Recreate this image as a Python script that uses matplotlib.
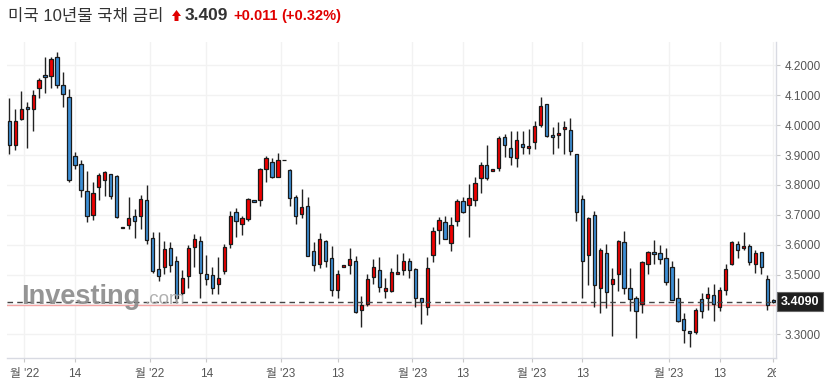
import matplotlib.pyplot as plt
from matplotlib.patches import Polygon
from matplotlib.transforms import blended_transform_factory, Bbox, TransformedBbox
import numpy as np

# OHLC values (oldest -> newest)
opens = [4.013, 3.933, 4.021, 4.061, 4.055, 4.124, 4.168, 4.163, 4.228, 4.134,
         4.094, 3.896, 3.869, 3.780, 3.698, 3.792, 3.818, 3.835, 3.831, 3.656,
         3.665, 3.695, 3.695, 3.750, 3.623, 3.517, 3.524, 3.589, 3.544, 3.437,
         3.494, 3.591, 3.611, 3.501, 3.497, 3.467, 3.513, 3.601, 3.708, 3.668,
         3.685, 3.749, 3.749, 3.853, 3.876, 3.828, 3.883, 3.849, 3.759, 3.702,
         3.728, 3.580, 3.537, 3.611, 3.554, 3.450, 3.524, 3.531, 3.547, 3.383,
         3.403, 3.492, 3.514, 3.446, 3.446, 3.501, 3.514, 3.547, 3.517, 3.423,
         3.393, 3.564, 3.648, 3.675, 3.604, 3.678, 3.745, 3.732, 3.749, 3.822,
         3.866, 3.846, 3.856, 3.960, 3.923, 3.889, 3.936, 3.923, 3.943, 4.000,
         4.070, 3.966, 3.966, 3.987, 3.983, 3.903, 3.752, 3.564, 3.698, 3.454,
         3.571, 3.470, 3.501, 3.608, 3.454, 3.420, 3.403, 3.534, 3.574, 3.571,
         3.554, 3.527, 3.420, 3.350, 3.312, 3.308, 3.417, 3.423, 3.430, 3.393,
         3.450, 3.534, 3.601, 3.588, 3.594, 3.537, 3.574, 3.484, 3.415]
highs = [4.091, 4.054, 4.114, 4.079, 4.118, 4.158, 4.227, 4.227, 4.245, 4.178,
         4.121, 3.909, 3.884, 3.845, 3.809, 3.839, 3.845, 3.838, 3.834, 3.660,
         3.759, 3.721, 3.766, 3.799, 3.641, 3.641, 3.613, 3.608, 3.561, 3.515,
         3.599, 3.635, 3.630, 3.564, 3.524, 3.558, 3.603, 3.714, 3.724, 3.696,
         3.755, 3.749, 3.858, 3.896, 3.889, 3.906, 3.883, 3.852, 3.766, 3.785,
         3.759, 3.610, 3.640, 3.615, 3.596, 3.516, 3.531, 3.588, 3.563, 3.429,
         3.503, 3.551, 3.558, 3.490, 3.521, 3.568, 3.571, 3.554, 3.521, 3.423,
         3.558, 3.658, 3.692, 3.695, 3.692, 3.752, 3.759, 3.802, 3.826, 3.876,
         3.933, 3.853, 3.963, 3.970, 3.980, 3.980, 3.980, 3.987, 4.013, 4.094,
         4.072, 3.993, 4.010, 4.013, 4.023, 3.903, 3.765, 3.692, 3.712, 3.588,
         3.601, 3.521, 3.615, 3.645, 3.521, 3.427, 3.547, 3.578, 3.615, 3.598,
         3.588, 3.547, 3.487, 3.373, 3.312, 3.387, 3.437, 3.457, 3.467, 3.460,
         3.537, 3.611, 3.611, 3.641, 3.601, 3.581, 3.574, 3.497, 3.418]
lows = [3.903, 3.916, 4.019, 3.923, 3.979, 4.090, 4.107, 4.126, 4.126, 4.061,
        3.811, 3.854, 3.761, 3.675, 3.683, 3.749, 3.764, 3.752, 3.690, 3.656,
        3.654, 3.623, 3.651, 3.603, 3.506, 3.478, 3.503, 3.509, 3.407, 3.432,
        3.454, 3.525, 3.423, 3.464, 3.434, 3.436, 3.503, 3.588, 3.625, 3.631,
        3.679, 3.743, 3.731, 3.809, 3.822, 3.825, 3.883, 3.728, 3.668, 3.688,
        3.563, 3.512, 3.523, 3.527, 3.428, 3.420, 3.524, 3.501, 3.372, 3.324,
        3.396, 3.467, 3.441, 3.423, 3.441, 3.501, 3.497, 3.490, 3.390, 3.336,
        3.366, 3.541, 3.601, 3.618, 3.578, 3.661, 3.705, 3.625, 3.728, 3.772,
        3.816, 3.846, 3.846, 3.893, 3.867, 3.859, 3.903, 3.903, 3.920, 3.993,
        3.960, 3.903, 3.923, 3.903, 3.899, 3.678, 3.420, 3.464, 3.390, 3.373,
        3.387, 3.294, 3.444, 3.434, 3.377, 3.289, 3.370, 3.501, 3.537, 3.537,
        3.465, 3.415, 3.341, 3.270, 3.256, 3.300, 3.353, 3.383, 3.343, 3.377,
        3.430, 3.531, 3.554, 3.581, 3.531, 3.504, 3.501, 3.383, 3.405]
closes = [3.933, 4.013, 4.054, 4.055, 4.101, 4.152, 4.161, 4.221, 4.133, 4.104,
          3.815, 3.866, 3.782, 3.695, 3.773, 3.832, 3.842, 3.763, 3.692, 3.660,
          3.691, 3.680, 3.752, 3.616, 3.513, 3.495, 3.584, 3.532, 3.423, 3.490,
          3.589, 3.618, 3.504, 3.485, 3.455, 3.490, 3.591, 3.695, 3.678, 3.688,
          3.752, 3.743, 3.853, 3.889, 3.826, 3.883, 3.883, 3.755, 3.695, 3.725,
          3.563, 3.532, 3.618, 3.547, 3.447, 3.501, 3.531, 3.551, 3.375, 3.399,
          3.484, 3.524, 3.457, 3.455, 3.507, 3.507, 3.544, 3.514, 3.420, 3.407,
          3.521, 3.645, 3.682, 3.618, 3.665, 3.745, 3.708, 3.755, 3.806, 3.866,
          3.822, 3.853, 3.956, 3.933, 3.893, 3.950, 3.926, 3.930, 3.997, 4.064,
          3.963, 3.960, 3.973, 3.993, 3.913, 3.708, 3.547, 3.688, 3.464, 3.581,
          3.440, 3.484, 3.611, 3.454, 3.417, 3.377, 3.541, 3.574, 3.568, 3.551,
          3.476, 3.415, 3.343, 3.313, 3.305, 3.382, 3.377, 3.434, 3.403, 3.450,
          3.517, 3.608, 3.581, 3.594, 3.541, 3.571, 3.527, 3.398, 3.409]

tick_pos = [2.5, 11, 23.5, 33, 45.5, 55, 67.5, 76, 87.5, 96, 110.5, 119, 128]
tick_labels = ["월 '22", "14", "월 '22", "14", "월 '23", "13", "월 '23", "13",
               "월 '23", "13", "월 '23", "13", "26"]
y_ticks = [3.3, 3.4, 3.5, 3.6, 3.7, 3.8, 3.9, 4.0, 4.1, 4.2]

last_price = 3.409
prev_close = 3.398

plt.rcParams['font.family'] = ['Liberation Sans', 'Noto Sans CJK KR', 'DejaVu Sans']

fig = plt.figure(figsize=(8.33, 3.91), dpi=100)
ax_right = 0.932
ax = fig.add_axes([0.009, 0.0836, ax_right - 0.009, 0.8094])

x = np.arange(len(opens))
o = np.array(opens)
c = np.array(closes)
up = c > o
colors = np.where(up, '#f00000', '#3d8fd6')

# wicks and bodies
ax.vlines(x, lows, highs, color='#222222', lw=1, zorder=2)
ax.bar(x, np.abs(c - o), bottom=np.minimum(o, c), width=0.55, color=colors,
       edgecolor='#1a1a1a', linewidth=0.9, zorder=3)

ax.axhline(prev_close, color='#f4a4a4', lw=1, zorder=1)
ax.axhline(last_price, color='#444444', lw=1, ls=(0, (4, 3)), zorder=4)

ax.set_xlim(-0.3, 128.5)
ax.set_ylim(3.2197, 4.279)

ax.yaxis.tick_right()
ax.set_yticks(y_ticks)
ax.set_yticklabels(['' if abs(v - 3.4) < 1e-9 else f'{v:.4f}' for v in y_ticks])
ax.set_xticks(tick_pos)
ax.set_xticklabels(tick_labels)
ax.tick_params(axis='both', colors='#c8c8c8', labelcolor='#555555', labelsize=8.5, length=3, width=0.8)
ax.tick_params(axis='x', pad=4)
ax.tick_params(axis='y', pad=3)
# last date label is cut at the right edge of the plot
clip = TransformedBbox(Bbox([[0, 0], [ax_right, 1]]), fig.transFigure)
for lbl in ax.get_xticklabels():
    lbl.set_clip_box(clip)
    lbl.set_clip_on(True)

ax.grid(True, color='#f2f2f2', lw=1)
ax.set_axisbelow(True)
for s in ['top', 'left']:
    ax.spines[s].set_visible(False)
for s in ['right', 'bottom']:
    ax.spines[s].set_color('#d8dae2')
    ax.spines[s].set_linewidth(1)

# last price box
trans = blended_transform_factory(ax.transAxes, ax.transData)
ax.text(1.006, last_price, '3.4090', transform=trans, color='white', fontsize=9,
        fontweight='bold', va='center', ha='left', clip_on=False, zorder=6,
        bbox=dict(boxstyle='square,pad=0.28', fc='#1e1e1e', ec='#666666', lw=0.8))

# watermark
fig.text(21 / 833, 1 - 304 / 391, 'Investing', color='#8a8a8a', fontsize=19.5,
         fontweight='bold', ha='left', va='baseline', alpha=0.9, zorder=0)
fig.text(144 / 833, 1 - 304 / 391, '.com', color='#a8a8a8', fontsize=13.5,
         ha='left', va='baseline', alpha=0.9, zorder=0)

# header
ty = 1 - 16 / 391
fig.text(8 / 833, ty, '미국 10년물 국채 금리', color='#333333', fontsize=12, va='center')
pts = np.array([[172, 16], [176.5, 10], [181, 16], [178.5, 16], [178.5, 21], [174.5, 21], [174.5, 16]])
pts = np.column_stack([pts[:, 0] / 833, (391 - pts[:, 1]) / 391])
arrow = Polygon(pts, closed=True, transform=fig.transFigure, fc='#e00000', ec='none')
fig.add_artist(arrow)
fig.text(185 / 833, ty, '3.409', color='#333333', fontsize=12.5, fontweight='bold', va='center')
fig.text(233 / 833, ty, '+0.011', color='#e00000', fontsize=10.5, fontweight='bold', va='center')
fig.text(281 / 833, ty, '(+0.32%)', color='#e00000', fontsize=10.5, fontweight='bold', va='center')

fig.savefig('out.png', dpi=100)
